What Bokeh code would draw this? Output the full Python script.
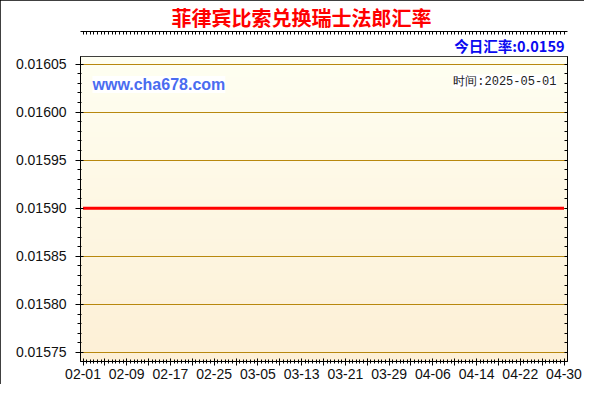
import numpy as np
import pandas as pd
from bokeh.plotting import figure
from bokeh.models import (Range1d, FixedTicker, LinearAxis, Label, Title, PrintfTickFormatter)
from bokeh.embed import file_html
from bokeh.resources import INLINE

# ---------------- data ----------------
start_date = "2025-02-01"
end_date = "2025-04-30"
dates = pd.date_range(start_date, end_date, freq="D")
rates = [
    0.0159, 0.0159, 0.0159, 0.0159, 0.0159, 0.0159, 0.0159, 0.0159, 0.0159, 0.0159,
    0.0159, 0.0159, 0.0159, 0.0159, 0.0159, 0.0159, 0.0159, 0.0159, 0.0159, 0.0159,
    0.0159, 0.0159, 0.0159, 0.0159, 0.0159, 0.0159, 0.0159, 0.0159, 0.0159, 0.0159,
    0.0159, 0.0159, 0.0159, 0.0159, 0.0159, 0.0159, 0.0159, 0.0159, 0.0159, 0.0159,
    0.0159, 0.0159, 0.0159, 0.0159, 0.0159, 0.0159, 0.0159, 0.0159, 0.0159, 0.0159,
    0.0159, 0.0159, 0.0159, 0.0159, 0.0159, 0.0159, 0.0159, 0.0159, 0.0159, 0.0159,
    0.0159, 0.0159, 0.0159, 0.0159, 0.0159, 0.0159, 0.0159, 0.0159, 0.0159, 0.0159,
    0.0159, 0.0159, 0.0159, 0.0159, 0.0159, 0.0159, 0.0159, 0.0159, 0.0159, 0.0159,
    0.0159, 0.0159, 0.0159, 0.0159, 0.0159, 0.0159, 0.0159, 0.0159, 0.0159,
]
y_ticks = [0.01575, 0.01580, 0.01585, 0.01590, 0.01595, 0.01600, 0.01605]
x_tick_labels = ["02-01", "02-09", "02-17", "02-25", "03-05", "03-13",
                 "03-21", "03-29", "04-06", "04-14", "04-22", "04-30"]
title_text = "菲律宾比索兑换瑞士法郎汇率"
today_text = "今日汇率:0.0159"
site_text = "www.cha678.com"
time_text = "时间:2025-05-01"

# ---------------- helpers ----------------
day0 = pd.Timestamp(start_date)
def ms(d):
    return (day0 + pd.Timedelta(days=float(d))).value / 1e6

W, H = 584, 384
FL, FR, FT, FB = 80, 17, 56, 23   # frame borders (canvas px)

p = figure(width=W, height=H, output_backend="svg", toolbar_location=None,
           x_axis_type=None, y_axis_location=None,
           min_border_left=FL, min_border_right=FR,
           min_border_top=FT, min_border_bottom=FB)
p.x_range = Range1d(ms(-0.46), ms(88.64))
p.y_range = Range1d(0.0157406, 0.0160579)
p.background_fill_color = "#FEF8E6"
p.border_fill_color = "white"
p.outline_line_color = "black"
p.outline_line_width = 1
p.styles = {"outline": "2px solid black", "outline-offset": "-2px"}

# titles (outside the frame)
p.title = Title(text=title_text, align="left", offset=91, text_color="#FF0000",
                text_font="Noto Sans CJK SC", text_font_style="bold",
                text_font_size="20px", standoff=0)
p.add_layout(Title(text=today_text, align="right", text_color="#0A0AF0",
                   text_font="Noto Sans CJK SC", text_font_style="bold",
                   text_font_size="14.5px", standoff=2, offset=3), "above")

# gradient background
n = 128
top = np.array([255, 255, 242]); bot = np.array([253, 240, 214])
img = np.empty((n, 1), dtype=np.uint32)
view = img.view(dtype=np.uint8).reshape((n, 1, 4))
for i in range(n):
    t = i / (n - 1)
    c = bot + (top - bot) * t
    view[i, 0, 0:3] = c.astype(np.uint8)
    view[i, 0, 3] = 255
xs, xe = p.x_range.start, p.x_range.end
ys, ye = p.y_range.start, p.y_range.end
p.image_rgba(image=[img], x=xs, y=ys, dw=xe - xs, dh=ye - ys, level="image")

# ticks
n_days = len(dates) - 1
major_x = [ms(d) for d in range(0, n_days + 1, 4)]
minor_x = [ms(d) for d in np.arange(-0.0, n_days + 0.7, 2.0 / 3.0) if ms(d) <= xe]
overrides = {}
for i, t in enumerate(major_x):
    overrides[t] = x_tick_labels[i // 2] if i % 2 == 0 else ""
x_ticker = FixedTicker(ticks=major_x, minor_ticks=minor_x)

y_minor = [float(v) for v in np.round(np.arange(0.01575, 0.016061, 0.00001), 6)]
y_ticker = FixedTicker(ticks=y_ticks, minor_ticks=y_minor)

label_font = "Liberation Sans"

xb = LinearAxis(ticker=x_ticker, major_label_overrides=overrides)
xb.major_tick_out = 4; xb.major_tick_in = 3
xb.minor_tick_out = 2; xb.minor_tick_in = 2
xb.major_label_standoff = 3
xb.major_label_text_font = label_font
xb.major_label_text_font_size = "14px"
xb.major_label_text_color = "#101010"
xb.axis_line_color = "black"; xb.major_tick_line_color = "black"; xb.minor_tick_line_color = "black"
p.add_layout(xb, "below")

xt = LinearAxis(ticker=FixedTicker(ticks=[], minor_ticks=minor_x))
xt.major_label_text_font_size = "0px"
xt.major_label_standoff = 0
xt.major_tick_out = 0; xt.major_tick_in = 3
xt.minor_tick_out = 0; xt.minor_tick_in = 3
xt.axis_line_color = "black"; xt.minor_tick_line_color = "black"
p.add_layout(xt, "above")

yl = LinearAxis(ticker=y_ticker, formatter=PrintfTickFormatter(format="%.5f"))
yl.major_tick_out = 5; yl.major_tick_in = 3
yl.minor_tick_out = 3; yl.minor_tick_in = 1
yl.major_label_standoff = 9
yl.major_label_text_font = label_font
yl.major_label_text_font_size = "14px"
yl.major_label_text_color = "#101010"
yl.axis_line_color = "black"; yl.major_tick_line_color = "black"; yl.minor_tick_line_color = "black"
p.add_layout(yl, "left")

yr = LinearAxis(ticker=FixedTicker(ticks=[], minor_ticks=y_minor))
yr.major_label_text_font_size = "0px"
yr.major_tick_out = 0; yr.major_tick_in = 3
yr.minor_tick_out = 0; yr.minor_tick_in = 3
yr.axis_line_color = "black"; yr.minor_tick_line_color = "black"
p.add_layout(yr, "right")

p.xgrid.visible = False
p.ygrid.ticker = FixedTicker(ticks=y_ticks)
p.ygrid.grid_line_color = "#B8880E"
p.ygrid.grid_line_width = 1

# data line
p.line([ms(d) for d in range(len(dates))], rates, line_color="#FF0000", line_width=3)

# texts inside the frame: screen units relative to frame (x from left, y from bottom)
frame_bottom = H - FB
def fx(cx):
    return cx - FL
def fy(cy):
    return frame_bottom - cy

p.add_layout(Label(x=fx(92), y=fy(84), x_units="screen", y_units="screen", text=site_text,
                   text_align="left", text_baseline="middle", text_color="#4A6CF0",
                   text_font="Liberation Sans", text_font_style="bold",
                   text_font_size="16px", background_fill_color="white"))
p.add_layout(Label(x=fx(556), y=fy(81), x_units="screen", y_units="screen", text=time_text,
                   text_align="right", text_baseline="middle", text_color="#222222",
                   text_font="Liberation Mono", text_font_size="12px",
                   background_fill_color="white"))

open("out.html", "w").write(file_html(p, INLINE))
